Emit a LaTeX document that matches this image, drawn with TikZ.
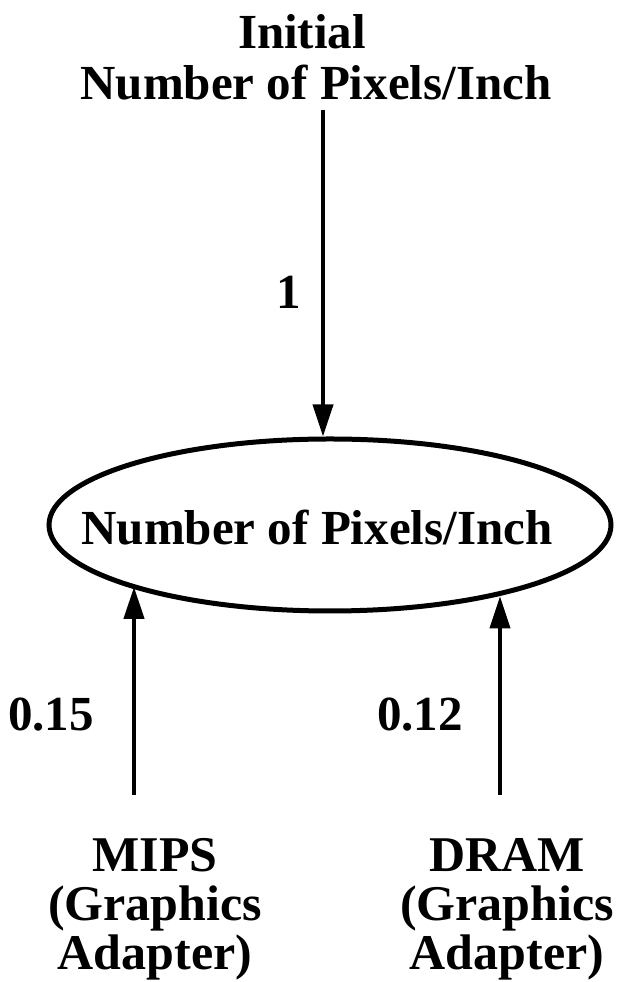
\documentclass[tikz,border=0pt]{standalone}
\usepackage{fontspec}
\setmainfont{Liberation Serif}
\usepackage{tikz}
\usetikzlibrary{
    arrows.meta,
    shapes.geometric
}

\begin{document}
\begin{tikzpicture}[x=1pt,y=1pt,
    arr/.style={line width=4pt, -{Triangle[length=32pt,width=20pt]}},
    big/.style={font=\fontsize{49}{51}\selectfont\bfseries, align=center},
    src/.style={font=\fontsize{50}{49}\selectfont\bfseries, align=center}
]

% Frame
\useasboundingbox (0,0) rectangle (618,982);

% Ellipse
\node[ellipse, draw, line width=5pt, minimum width=562pt, minimum height=172pt,
      inner sep=0pt] (pix) at (330,457) {};
\node[big] (pixtext) at (317,454) {Number of Pixels/Inch};

% Initial value
\node[big] (init) at (316,925) {Initial\hspace*{28pt}\\Number of Pixels/Inch};
\coordinate (initout) at (323,872);
\draw[arr] (initout) -- (initout |- pix.north);
\node[big] (w1) at (289,690) {1};

% Sources
\node[src] (mips) at (155,73) {MIPS\\(Graphics\\Adapter)};
\node[src] (dram) at (507,73) {DRAM\\(Graphics\\Adapter)};
\coordinate (mipsout) at (134,187);
\coordinate (dramout) at (500,187);
\draw[arr] (mipsout) -- (mipsout |- pix.197.7);
\draw[arr] (dramout) -- (dramout |- pix.337.8);

% Weights
\node[big] (w2) at (51,267) {0.15};
\node[big] (w3) at (420,267) {0.12};

\end{tikzpicture}
\end{document}
